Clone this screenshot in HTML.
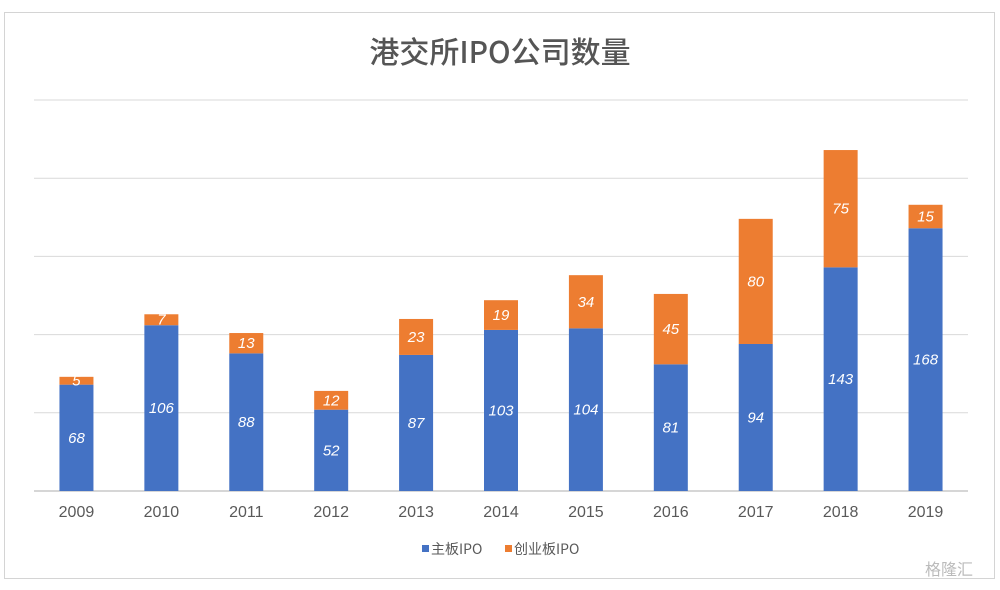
<!DOCTYPE html>
<html><head><meta charset="utf-8"><style>
body{margin:0;background:#fff;width:1000px;height:585px;overflow:hidden;font-family:"Liberation Sans","Noto Sans CJK SC",sans-serif}
</style></head><body>
<svg id="chart" width="1000" height="585" xmlns="http://www.w3.org/2000/svg">
<rect x="4.5" y="12.5" width="990" height="566" fill="#fff" stroke="#d4d4d4"/>
<text x="500" y="63" text-anchor="middle" font-size="30" font-weight="500" fill="#555" font-family="'Noto Sans CJK SC',sans-serif">港交所IPO公司数量</text>
<g id="grid"></g><g id="bars"></g><g id="xlabels"></g>
<g>
<rect x="422" y="545" width="7" height="7" fill="#4472c4"/>
<text x="431" y="554" font-size="14" fill="#595959" font-family="'Noto Sans CJK SC',sans-serif">主板IPO</text>
<rect x="505" y="545" width="7" height="7" fill="#ed7d31"/>
<text x="514" y="554" font-size="14" fill="#595959" font-family="'Noto Sans CJK SC',sans-serif">创业板IPO</text>
</g>
<text x="925" y="575" font-size="16" fill="#bbb" font-family="'Noto Sans CJK SC',sans-serif">格隆汇</text>
</svg>
<script>
const years=["2009","2010","2011","2012","2013","2014","2015","2016","2017","2018","2019"];
const mainBoard=[68,106,88,52,87,103,104,81,94,143,168];
const gem=[5,7,13,12,23,19,34,45,80,75,15];
const gridTicks=[0,50,100,150,200,250];
const NS="http://www.w3.org/2000/svg";
const x0=34,x1=968,yBase=491,yTop=100,maxV=250;
const y=v=>yBase-(yBase-yTop)*v/maxV;
const band=(x1-x0)/years.length;
const xc=i=>x0+band*(i+0.5);
const bw=34;
function mk(tag,attrs,parent){const e=document.createElementNS(NS,tag);for(const k in attrs)e.setAttribute(k,attrs[k]);parent.appendChild(e);return e;}
const g=document.getElementById('grid'),b=document.getElementById('bars'),xl=document.getElementById('xlabels');
gridTicks.forEach(t=>{const l=mk('line',{x1:x0,x2:x1,y1:y(t),y2:y(t),stroke:t===0?'#c8c8c8':'#d9d9d9','stroke-width':t===0?1.5:1},g);

});
years.forEach((yr,i)=>{
 const cx=xc(i);
 const r1=mk('rect',{x:cx-bw/2,y:y(mainBoard[i]),width:bw,height:yBase-y(mainBoard[i]),fill:'#4472c4'},b);
 
 
 const r2=mk('rect',{x:cx-bw/2,y:y(mainBoard[i]+gem[i]),width:bw,height:y(mainBoard[i])-y(mainBoard[i]+gem[i]),fill:'#ed7d31'},b);
 
 
 const t1=mk('text',{x:cx,y:(y(mainBoard[i])+yBase)/2+5,'text-anchor':'middle','font-size':15,'font-style':'italic',fill:'#fff'},b);
 t1.textContent=mainBoard[i];
 
 
 const t2=mk('text',{x:cx,y:(y(mainBoard[i])+y(mainBoard[i]+gem[i]))/2+5,'text-anchor':'middle','font-size':15,'font-style':'italic',fill:'#fff'},b);
 t2.textContent=gem[i];
 
 
 const xt=mk('text',{x:cx,y:517,'text-anchor':'middle','font-size':16,fill:'#595959'},xl);
 xt.textContent=yr;
 
 
});
</script>
</body></html>
